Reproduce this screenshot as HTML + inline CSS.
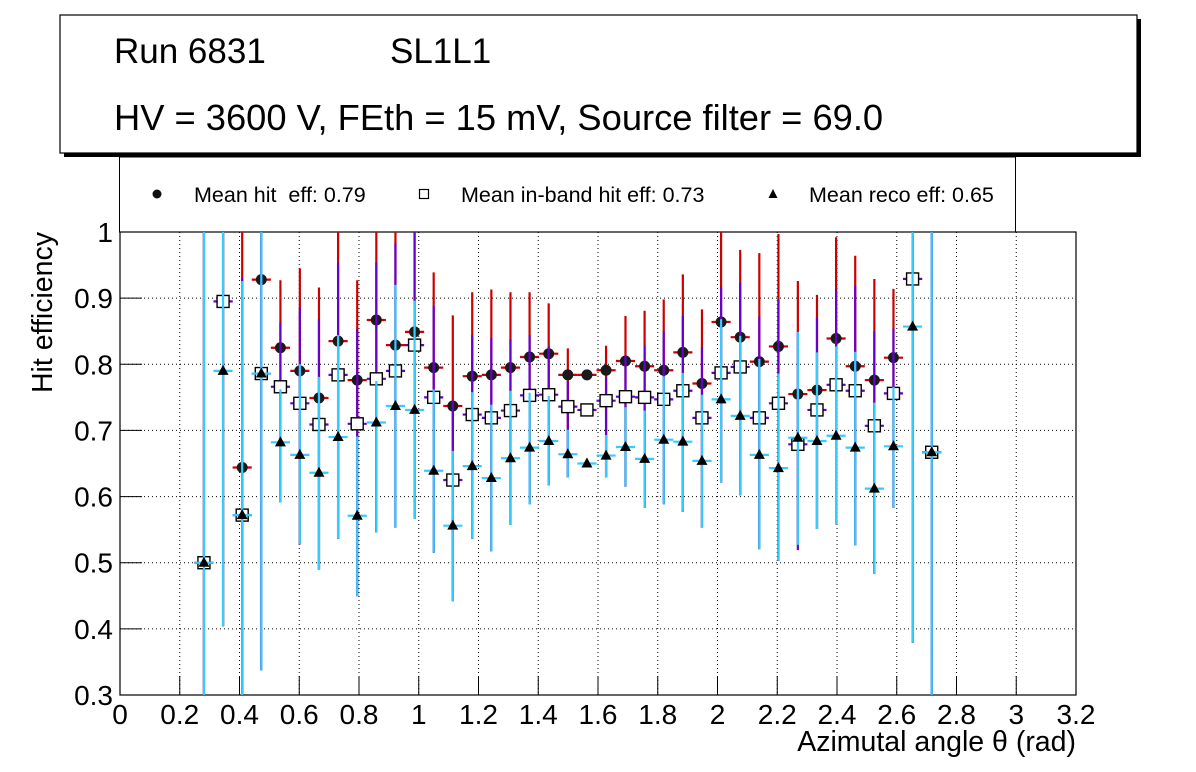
<!DOCTYPE html>
<html><head><meta charset="utf-8"><style>
html,body{margin:0;padding:0;background:#fff;overflow:hidden;width:1196px;height:772px;}
svg{display:block;font-family:"Liberation Sans",sans-serif;}
</style></head><body>
<svg id="chart" width="1196" height="772" viewBox="0 0 1196 772">
  <rect x="0" y="0" width="1196" height="772" fill="#fff"/>
  <g>
    <rect x="64" y="19" width="1077" height="138" fill="#000"/>
    <rect x="60" y="15" width="1077" height="138" fill="#fff" stroke="#000" stroke-width="1.2"/>
    <text x="114" y="63" font-size="35">Run 6831</text>
    <text x="390" y="63" font-size="35">SL1L1</text>
    <text x="114" y="130" font-size="36.3">HV = 3600 V, FEth = 15 mV, Source filter = 69.0</text>
  </g>
  <g>
    <rect x="119.5" y="157" width="896" height="75" fill="#fff" stroke="#000" stroke-width="1"/>
    <g>
      <circle cx="157" cy="194" r="4.5" fill="#111"/>
      <text x="194" y="202" font-size="21.5" xml:space="preserve" style="white-space:pre">Mean hit  eff: 0.79</text>
    </g>
    <g>
      <rect x="419.5" y="189.5" width="9" height="9" fill="#fff" stroke="#000" stroke-width="1.2"/>
      <text x="461" y="202" font-size="21.5">Mean in-band hit eff: 0.73</text>
    </g>
    <g>
      <polygon points="773,189 777.5,198 768.5,198" fill="#000"/>
      <text x="809" y="202" font-size="21.5">Mean reco eff: 0.65</text>
    </g>
  </g>
  <g id="grid"></g>
  <g id="axes"></g>
  <g id="series" clip-path="url(#clip)"></g>
  <defs><clipPath id="clip"><rect x="120" y="232" width="956" height="463"/></clipPath></defs>
  <text x="1076" y="751" font-size="28.5" text-anchor="end">Azimutal angle θ (rad)</text>
  <text transform="translate(52,232) rotate(-90)" font-size="28.5" text-anchor="end">Hit efficiency</text>
</svg>
<script>
const xVals=[0.281,0.345,0.409,0.473,0.537,0.602,0.666,0.730,0.794,0.858,0.922,0.986,1.050,1.114,1.179,1.243,1.307,1.371,1.435,1.499,1.563,1.627,1.692,1.756,1.820,1.884,1.948,2.012,2.076,2.140,2.204,2.269,2.333,2.397,2.461,2.525,2.589,2.653,2.717];
const hit=[0.500,0.895,0.644,0.928,0.825,0.790,0.749,0.835,0.776,0.867,0.829,0.849,0.795,0.737,0.782,0.784,0.795,0.811,0.816,0.784,0.784,0.791,0.805,0.797,0.791,0.818,0.771,0.864,0.841,0.804,0.827,0.755,0.761,0.839,0.797,0.776,0.810,0.929,0.667];
const hitHi=[1.2,1.2,1.2,1.2,0.927,0.945,0.916,1.2,0.927,1.2,1.2,1.2,0.939,0.874,0.909,0.913,0.909,0.909,0.892,0.824,0.792,0.828,0.873,0.881,0.898,0.936,0.883,1.2,0.973,0.968,0.997,0.926,0.905,0.992,0.964,0.929,0.914,1.2,1.2];
const hitLo=[0.1,0.404,0.1,0.337,0.591,0.528,0.489,0.536,0.449,0.546,0.553,0.566,0.515,0.442,0.536,0.517,0.557,0.588,0.617,0.629,0.776,0.629,0.615,0.583,0.588,0.577,0.553,0.621,0.602,0.520,0.503,0.527,0.551,0.558,0.526,0.483,0.583,0.379,0.1];
const inb=[0.500,0.895,0.572,0.786,0.766,0.741,0.709,0.784,0.710,0.778,0.790,0.829,0.750,0.625,0.724,0.719,0.730,0.753,0.754,0.736,0.731,0.745,0.751,0.750,0.747,0.760,0.719,0.787,0.796,0.719,0.741,0.679,0.731,0.769,0.760,0.707,0.756,0.929,0.667];
const inbHi=[1.2,1.2,0.93,1.2,0.863,0.886,0.868,0.954,0.853,0.954,0.983,1.2,0.888,0.745,0.844,0.840,0.838,0.844,0.827,0.774,0.740,0.780,0.813,0.828,0.850,0.873,0.826,0.916,0.923,0.872,0.898,0.850,0.871,0.914,0.919,0.850,0.854,1.2,1.2];
const inbLo=[0.1,0.404,0.1,0.337,0.591,0.528,0.489,0.536,0.449,0.546,0.553,0.566,0.515,0.442,0.536,0.517,0.557,0.588,0.617,0.629,0.724,0.629,0.615,0.583,0.588,0.577,0.553,0.621,0.602,0.520,0.503,0.519,0.551,0.558,0.526,0.483,0.583,0.379,0.1];
const reco=[0.500,0.790,0.572,0.786,0.682,0.663,0.636,0.690,0.571,0.712,0.737,0.731,0.639,0.556,0.646,0.628,0.658,0.674,0.684,0.664,0.650,0.662,0.675,0.657,0.686,0.683,0.654,0.747,0.722,0.663,0.643,0.689,0.684,0.692,0.674,0.612,0.676,0.857,0.667];
const recoHi=[1.2,1.2,0.926,1.2,0.762,0.800,0.781,0.844,0.691,0.775,0.920,0.896,0.762,0.669,0.758,0.739,0.760,0.757,0.752,0.701,0.657,0.693,0.735,0.730,0.782,0.787,0.754,0.868,0.843,0.808,0.786,0.849,0.818,0.827,0.819,0.742,0.766,1.2,1.2];
const recoLo=[0.1,0.404,0.1,0.337,0.591,0.528,0.489,0.536,0.449,0.546,0.553,0.566,0.515,0.442,0.536,0.517,0.557,0.588,0.617,0.629,0.645,0.629,0.615,0.583,0.588,0.577,0.553,0.621,0.602,0.520,0.503,0.527,0.551,0.558,0.526,0.483,0.583,0.379,0.1];
const xTicks=["0","0.2","0.4","0.6","0.8","1","1.2","1.4","1.6","1.8","2","2.2","2.4","2.6","2.8","3","3.2"];
const yTicks=["0.3","0.4","0.5","0.6","0.7","0.8","0.9","1"];

const NS="http://www.w3.org/2000/svg";
const X0=120,X1=1076,Y0=695,Y1=232;
function xs(v){return X0+(v-0)/(3.2-0)*(X1-X0);}
function ys(v){return Y0-(v-0.3)/(1-0.3)*(Y0-Y1);}
function mk(tag,attrs,parent){const e=document.createElementNS(NS,tag);for(const k in attrs)e.setAttribute(k,attrs[k]);parent.appendChild(e);return e;}
const grid=document.getElementById('grid'),axes=document.getElementById('axes'),ser=document.getElementById('series');

xTicks.forEach(t=>{const v=parseFloat(t),x=xs(v);
  if(v>0&&v<3.2){const g=mk('line',{x1:x,x2:x,y1:Y1,y2:Y0,stroke:'#000','stroke-width':1,'stroke-dasharray':'1,3'},grid);
  
  }
  const tk=mk('line',{x1:x,x2:x,y1:Y0,y2:Y0-19,stroke:'#000','stroke-width':1},axes);
  
  
  const tl=mk('text',{x:x,y:724,'font-size':28,'text-anchor':'middle'},axes);tl.textContent=t;
  
  
});
yTicks.forEach(t=>{const v=parseFloat(t),y=ys(v);
  if(v>0.3&&v<1){const g=mk('line',{x1:X0,x2:X1,y1:y,y2:y,stroke:'#000','stroke-width':1,'stroke-dasharray':'1,3'},grid);
  
  }
  const tk=mk('line',{x1:X0,x2:X0+22,y1:y,y2:y,stroke:'#000','stroke-width':1},axes);
  
  
  const tl=mk('text',{x:113,y:y+10,'font-size':28,'text-anchor':'end'},axes);tl.textContent=t;
  
  
});
const fr=mk('rect',{x:X0,y:Y1,width:X1-X0,height:Y0-Y1,fill:'none',stroke:'#000','stroke-width':1.2},axes);



const HW=0.032;
function drawSeries(vals,hi,lo,color,name,marker){
  vals.forEach((v,i)=>{
    const x=xs(xVals[i]),y=ys(v);
    const g=mk('g',{},ser);
    
    
    mk('line',{x1:x,x2:x,y1:ys(hi[i]),y2:ys(lo[i]),stroke:color,'stroke-width':2.2},g);
    mk('line',{x1:xs(xVals[i]-HW),x2:xs(xVals[i]+HW),y1:y,y2:y,stroke:color,'stroke-width':2.2},g);
    if(marker==='circle')mk('circle',{cx:x,cy:y,r:5.5,fill:'#1a1a1a'},g);
    else if(marker==='square')mk('rect',{x:x-6,y:y-6,width:12,height:12,fill:'#fff',stroke:'#000','stroke-width':1.4},g);
    else mk('polygon',{points:`${x},${y-6} ${x+5.5},${y+4} ${x-5.5},${y+4}`,fill:'#000'},g);
  });
}
drawSeries(hit,hitHi,hitLo,'#cc0000','hit-eff','circle');
drawSeries(inb,inbHi,inbLo,'#6600cc','inband-eff','square');
drawSeries(reco,recoHi,recoLo,'#33ccff','reco-eff','triangle');
</script>
</body></html>
